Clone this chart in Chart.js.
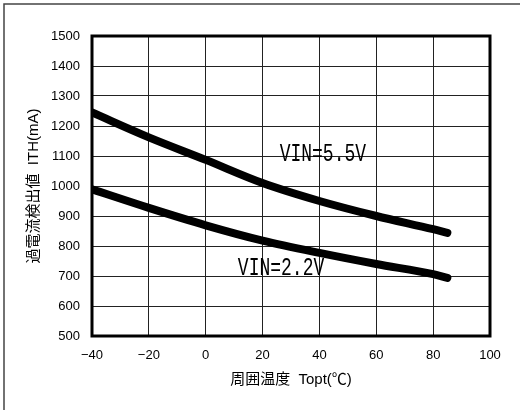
<!DOCTYPE html>
<html>
<head>
<meta charset="utf-8">
<script src="https://cdn.jsdelivr.net/npm/chart.js@4"></script>
<style>
  body { margin: 0; background: #fff; }
</style>
</head>
<body>
<canvas id="myChart" width="520" height="410"></canvas>
<script>
// 데이터
const temps = [-40, -20, 0, 20, 40, 60, 80, 85];
const vin55 = [1245, 1162, 1087, 1010, 950, 900, 856, 844];
const vin22 = [989, 927, 869, 818, 777, 740, 706, 694];

const labelNames = ["VIN=5.5V", "VIN=2.2V"];
const labelX = [26, 11.3];
const labelY = [1107, 727];

const fontFamily = "'Liberation Sans', 'Noto Sans CJK JP', sans-serif";

function points(ys){
	let arr = [];
	for(let i = 0; i < temps.length; i++){
		arr.push({x: temps[i], y: ys[i]});
	}
	return arr;
}

// 바깥 테두리, 그래프 테두리, 라벨
const framePlugin = {
	id: "frame",
	beforeDraw(chart){
		const c = chart.ctx;
		c.save();
		c.strokeStyle = "#444";
		c.lineWidth = 1.5;
		c.beginPath();
		c.moveTo(4, 410);
		c.lineTo(4, 4);
		c.lineTo(520, 4);
		c.stroke();
		c.restore();
	},
	beforeDatasetsDraw(chart){
		const a = chart.chartArea;
		const c = chart.ctx;
		c.save();
		c.strokeStyle = "#000";
		c.lineWidth = 3;
		c.strokeRect(a.left, a.top, a.right - a.left, a.bottom - a.top);
		c.restore();
	},
	afterDatasetsDraw(chart){
		const c = chart.ctx;
		const xs = chart.scales.x;
		const ys = chart.scales.y;
		c.save();
		c.fillStyle = "#000";
		c.font = "18px 'Liberation Mono', monospace";
		c.textBaseline = "middle";
		c.textAlign = "left";
		for(let i = 0; i < labelNames.length; i++){
			let px = xs.getPixelForValue(labelX[i]);
			let py = ys.getPixelForValue(labelY[i]);
			c.save();
			c.translate(px, py);
			c.scale(1, 1.45);
			c.fillText(labelNames[i], 0, 0);
			c.restore();
		}
		c.restore();
	}
};

const ctx = document.getElementById("myChart");

new Chart(ctx, {
	type: "line",
	data: {
		datasets: [{
			data: points(vin55),
			borderColor: "#000",
			borderWidth: 8,
			borderCapStyle: "round",
			borderJoinStyle: "round",
			cubicInterpolationMode: "monotone",
			pointRadius: 0
		}, {
			data: points(vin22),
			borderColor: "#000",
			borderWidth: 8,
			borderCapStyle: "round",
			borderJoinStyle: "round",
			cubicInterpolationMode: "monotone",
			pointRadius: 0
		}]
	},
	options: {
		responsive: false,
		animation: false,
		devicePixelRatio: 1,
		layout: {
			padding: { left: 0, top: 36, right: 30, bottom: 0 }
		},
		plugins: {
			legend: { display: false },
			tooltip: { enabled: false }
		},
		scales: {
			x: {
				type: "linear",
				min: -40,
				max: 100,
				afterFit: function(scale){ scale.height = 74; },
				grid: { color: "#222", lineWidth: 1, drawTicks: false },
				border: { display: false },
				ticks: {
					stepSize: 20,
					padding: 12,
					color: "#000",
					font: { family: fontFamily, size: 13 },
					callback: function(v){ return String(v).replace("-", "\u2212"); }
				},
				title: {
					display: true,
					text: "周囲温度  Topt(℃)",
					color: "#000",
					font: { family: fontFamily, size: 15 },
					padding: { top: 0, bottom: 21 }
				}
			},
			y: {
				min: 500,
				max: 1500,
				afterFit: function(scale){ scale.width = 92; },
				grid: { color: "#222", lineWidth: 1, drawTicks: false },
				border: { display: false },
				ticks: {
					stepSize: 100,
					padding: 12,
					color: "#000",
					font: { family: fontFamily, size: 13 },
					callback: function(v){ return String(v); }
				},
				title: {
					display: true,
					text: "過電流検出値  ITH(mA)",
					color: "#000",
					font: { family: fontFamily, size: 15 },
					padding: { top: 25, bottom: 0 }
				}
			}
		}
	},
	plugins: [framePlugin]
});
</script>
</body>
</html>
